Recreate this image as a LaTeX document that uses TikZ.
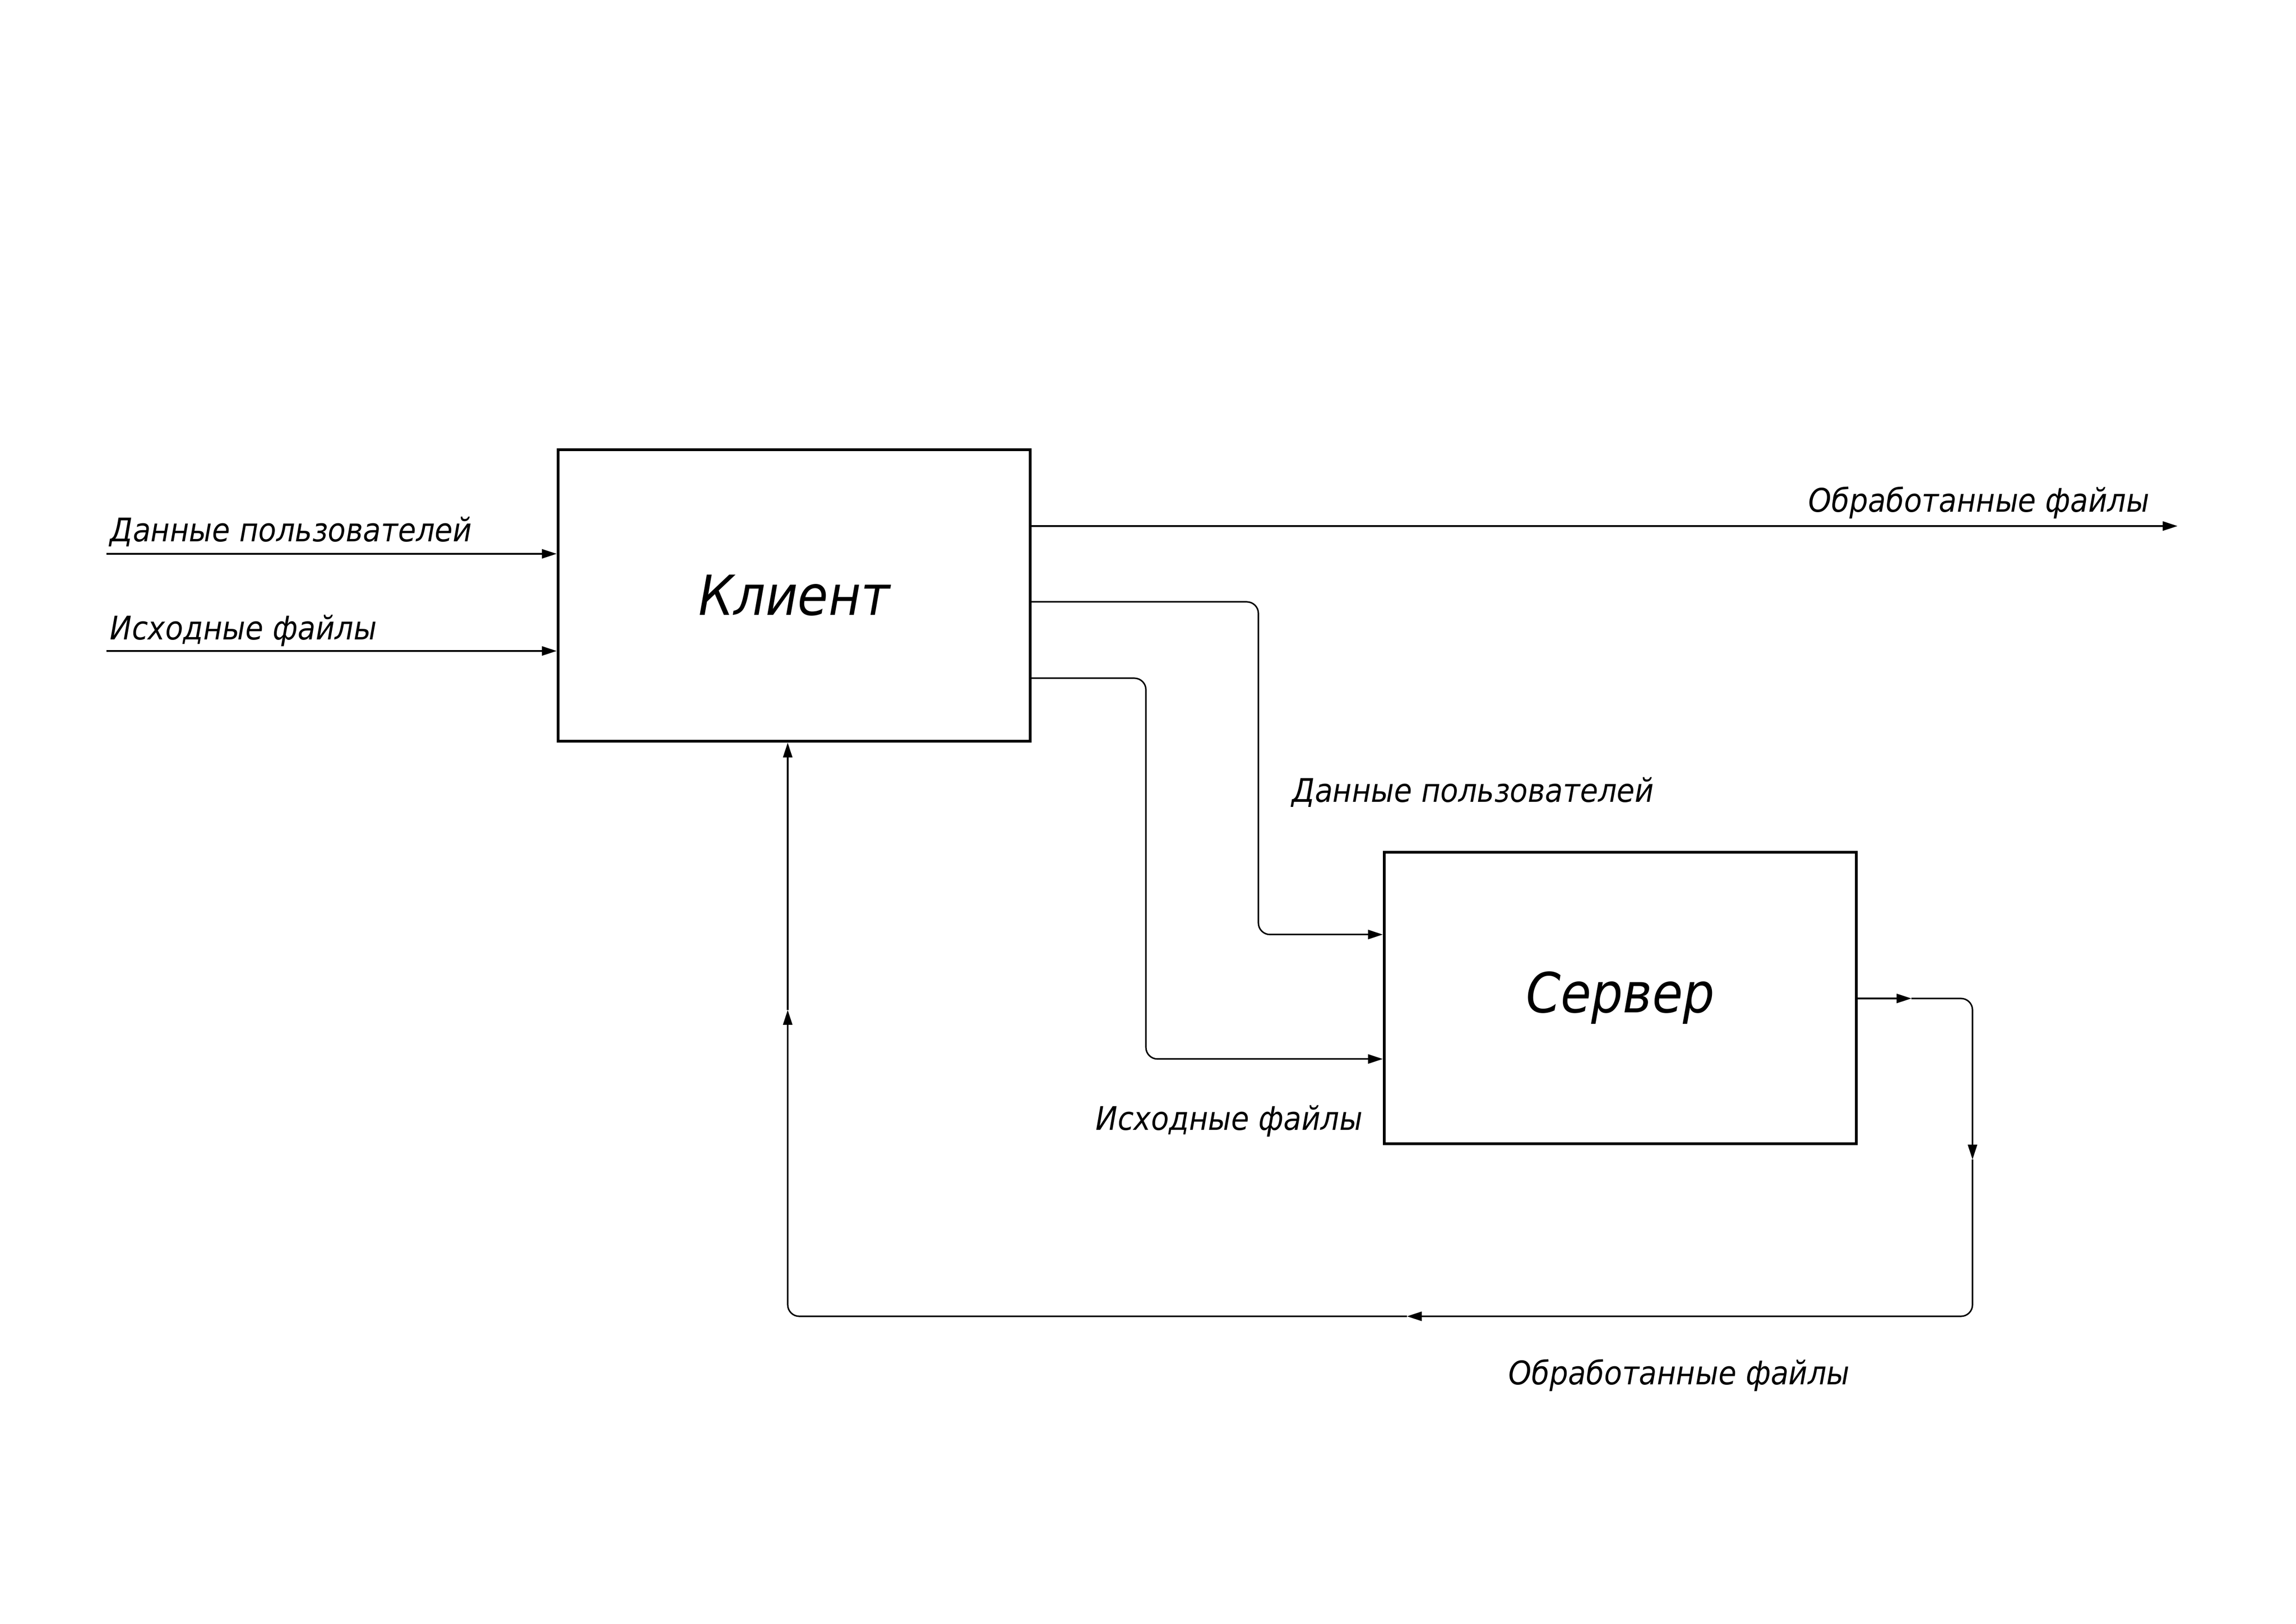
\documentclass[tikz,border=0pt]{standalone}
\usepackage{fontspec}
\setmainfont{DejaVu Sans Condensed}
\usetikzlibrary{arrows.meta,positioning}

\begin{document}
\begin{tikzpicture}[
    block/.style={draw,line width=1.8pt,minimum width=10.2cm,minimum height=6.3cm,inner sep=0pt,font=\fontsize{34}{40}\selectfont\itshape},
    lbl/.style={inner sep=0pt,font=\fontsize{20}{24}\selectfont\itshape},
    flow/.style={line width=0.9pt,-{Triangle[length=0.32cm,width=0.2cm]}},
    rc/.style={rounded corners=0.25cm}]
  \useasboundingbox (0,0) rectangle (49.61,35.09);
  % blocks
  \node[block] (client) at (17.16,22.22) {Клиент};
  \node[block] (server) at (35.01,13.52) {\raisebox{-0.1cm}{Сервер}};
  % inputs of client
  \coordinate (userin) at (2.30,23.12);
  \coordinate (srcin) at (2.30,21.02);
  \draw[flow] (userin) -- (userin -| client.west);
  \draw[flow] (srcin) -- (srcin -| client.west);
  \node[lbl,anchor=base west] (userlbl) at (2.37,23.38) {Данные пользователей};
  \node[lbl,anchor=base west] (srclbl) at (2.37,21.26) {Исходные файлы};
  % output of client
  \coordinate (resout) at (47.05,23.72);
  \draw[flow] (resout -| client.east) -- (resout);
  \node[lbl,anchor=base east] (reslbl) at (46.45,24.02) {Обработанные файлы};
  % client -> server
  \coordinate (userturn) at (27.19,18);
  \coordinate (srcturn) at (24.76,18);
  \draw[flow,rc] ([yshift=-3.32cm]client.north east) -| (userturn) |- ([yshift=-1.81cm]server.north west);
  \draw[flow,rc] ([yshift=-4.97cm]client.north east) -| (srcturn) |- ([yshift=-4.50cm]server.north west);
  \node[lbl,anchor=base west] (userlbl2) at (27.91,17.75) {Данные пользователей};
  \node[lbl,anchor=base west] (srclbl2) at (23.67,10.66) {Исходные файлы};
  % server -> client
  \coordinate (ret1) at (41.30,13.51);
  \coordinate (ret2) at (42.62,10.03);
  \coordinate (ret3) at (30.40,6.64);
  \coordinate (ret4) at (17.02,13.26);
  \draw[flow] (server.east |- ret1) -- (ret1);
  \draw[flow,rc] (ret1) -| (ret2);
  \draw[flow,rc] (ret2) |- (ret3);
  \draw[flow,rc] (ret3) -| (ret4);
  \draw[flow] (ret4) -- (ret4 |- client.south);
  \node[lbl,anchor=base west] (reslbl2) at (32.59,5.16) {Обработанные файлы};
\end{tikzpicture}
\end{document}
